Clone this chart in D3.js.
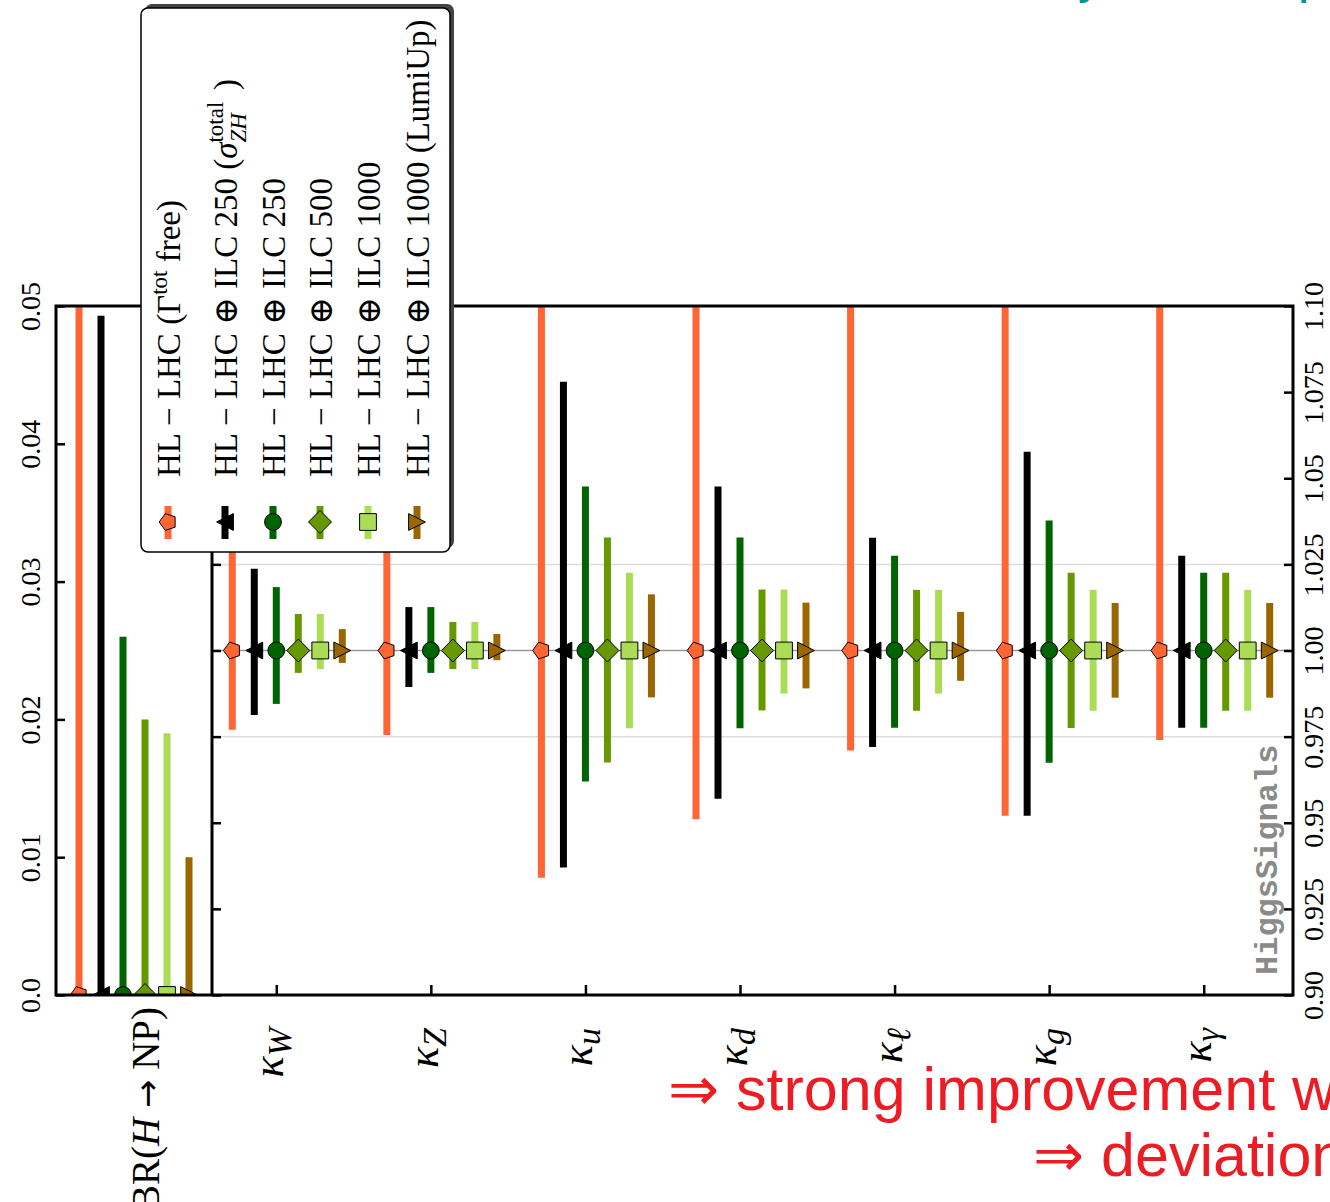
<!DOCTYPE html>
<html>
<head>
<meta charset="utf-8">
<script src="https://cdn.jsdelivr.net/npm/d3@7"></script>
<style>
  body { margin: 0; background: #fff; }
</style>
</head>
<body>
<div id="chart"></div>
<script>
// couplings on the right panel (subscript of kappa)
const categories = ["W", "Z", "u", "d", "\u2113", "g", "\u03b3"];

// scenarios, in legend order
const seriesKeys = ["lhc", "zh250", "ilc250", "ilc500", "ilc1000", "lumiup"];
const seriesColors = ["#ff6633", "#000000", "#006400", "#669900", "#aadd55", "#996600"];
const seriesMarkers = ["pentagon", "triangleLeft", "circle", "diamond", "square", "triangleRight"];

// BR(H -> NP) upper limits (left panel)
const brNP = [0.056, 0.0493, 0.0260, 0.0200, 0.0190, 0.0100];

// kappa ranges per scenario: upper and lower ends
const lhcUp = [1.05, 1.05, 1.12, 1.12, 1.12, 1.12, 1.12];
const lhcLo = [0.977, 0.9755, 0.934, 0.951, 0.971, 0.952, 0.974];
const zh250Up = [1.0237, 1.0126, 1.078, 1.0476, 1.0327, 1.0577, 1.0275];
const zh250Lo = [0.9813, 0.9894, 0.937, 0.957, 0.972, 0.952, 0.9776];
const ilc250Up = [1.0184, 1.0126, 1.0476, 1.0328, 1.0275, 1.0377, 1.0226];
const ilc250Lo = [0.9845, 0.9935, 0.962, 0.9774, 0.9776, 0.9674, 0.9776];
const ilc500Up = [1.0106, 1.0083, 1.0328, 1.0177, 1.0176, 1.0226, 1.0226];
const ilc500Lo = [0.9935, 0.9946, 0.9675, 0.9826, 0.9825, 0.9775, 0.9825];
const ilc1000Up = [1.0106, 1.0083, 1.0226, 1.0177, 1.0176, 1.0176, 1.0176];
const ilc1000Lo = [0.9946, 0.9946, 0.9774, 0.9875, 0.9875, 0.9825, 0.9825];
const lumiUp = [1.0062, 1.0048, 1.0163, 1.0139, 1.0112, 1.0138, 1.0138];
const lumiLo = [0.9964, 0.9972, 0.9864, 0.989, 0.9912, 0.9863, 0.9863];

// tick labels
const leftTicks = [0, 0.01, 0.02, 0.03, 0.04, 0.05];
const leftTickLabels = ["0.0", "0.01", "0.02", "0.03", "0.04", "0.05"];
const rightTicks = [0.9, 0.925, 0.95, 0.975, 1.0, 1.025, 1.05, 1.075, 1.1];
const rightTickLabels = ["0.90", "0.925", "0.95", "0.975", "1.00", "1.025", "1.05", "1.075", "1.10"];

const upper = [lhcUp, zh250Up, ilc250Up, ilc500Up, ilc1000Up, lumiUp];
const lower = [lhcLo, zh250Lo, ilc250Lo, ilc500Lo, ilc1000Lo, lumiLo];

const width = 1330, height = 1202;
const plotTop = 306, plotBottom = 995;
const leftX0 = 56, leftX1 = 212, rightX1 = 1293;
const serif = "'Liberation Serif', 'DejaVu Serif', serif";

const svg = d3.select("#chart").append("svg")
    .attr("width", width)
    .attr("height", height)
    .style("display", "block");

svg.append("rect").attr("width", width).attr("height", height).attr("fill", "#fff");

const yBR = d3.scaleLinear().domain([0, 0.05]).range([plotBottom, plotTop]);
const yK = d3.scaleLinear().domain([0.9, 1.1]).range([plotBottom, plotTop]);
const xCat = d3.scaleBand().domain(categories).range([210, 1292]);
const offset = d3.scalePoint().domain(seriesKeys).range([-55, 55]);
const brCenter = (leftX0 + leftX1) / 2;
const catCenter = c => xCat(c) + xCat.bandwidth() / 2;

const defs = svg.append("defs");
defs.append("clipPath").attr("id", "clipL").append("rect")
    .attr("x", leftX0).attr("y", plotTop).attr("width", leftX1 - leftX0).attr("height", plotBottom - plotTop);
defs.append("clipPath").attr("id", "clipR").append("rect")
    .attr("x", leftX1).attr("y", plotTop).attr("width", rightX1 - leftX1).attr("height", plotBottom - plotTop);

function markerPath(type) {
    const r = 8.4;
    const poly = pts => d3.line()(pts) + "Z";
    switch (type) {
        case "circle": return d3.symbol(d3.symbolCircle, Math.PI * r * r)();
        case "square": return d3.symbol(d3.symbolSquare, 4 * r * r)();
        case "diamond": return poly([[-11.5, 0], [0, -11.5], [11.5, 0], [0, 11.5]]);
        case "pentagon": {
            const R = 8.8;
            return poly(d3.range(5).map(k => {
                const a = Math.PI + k * 2 * Math.PI / 5;
                return [R * Math.cos(a), R * Math.sin(a)];
            }));
        }
        case "triangleLeft": return poly([[-r, 0], [r, -r], [r, r]]);
        case "triangleRight": return poly([[r, 0], [-r, -r], [-r, r]]);
    }
}

// ---- right panel: grid and reference line
const gR = svg.append("g").attr("clip-path", "url(#clipR)");
gR.selectAll("line.grid").data([0.975, 1.025]).enter().append("line")
    .attr("x1", leftX1).attr("x2", rightX1)
    .attr("y1", d => yK(d)).attr("y2", d => yK(d))
    .attr("stroke", "#dddddd").attr("stroke-width", 1.5);
gR.append("line")
    .attr("x1", leftX1).attr("x2", rightX1)
    .attr("y1", yK(1)).attr("y2", yK(1))
    .attr("stroke", "#999").attr("stroke-width", 1.5);

// ---- right panel: error bars and markers
const kData = [];
seriesKeys.forEach((s, i) => categories.forEach((c, j) => {
    kData.push({ s, i, c, lo: lower[i][j], hi: upper[i][j] });
}));

gR.selectAll("line.bar").data(kData).enter().append("line")
    .attr("x1", d => catCenter(d.c) + offset(d.s))
    .attr("x2", d => catCenter(d.c) + offset(d.s))
    .attr("y1", d => yK(d.lo)).attr("y2", d => yK(d.hi))
    .attr("stroke", d => seriesColors[d.i]).attr("stroke-width", 7);

gR.selectAll("path.mk").data(kData).enter().append("path")
    .attr("transform", d => `translate(${catCenter(d.c) + offset(d.s)},${yK(1)})`)
    .attr("d", d => markerPath(seriesMarkers[d.i]))
    .attr("fill", d => seriesColors[d.i])
    .attr("stroke", "#000").attr("stroke-width", 1);

// ---- left panel: BR(H->NP) upper limits
const gL = svg.append("g").attr("clip-path", "url(#clipL)");
gL.selectAll("line.bar").data(brNP).enter().append("line")
    .attr("x1", (d, i) => brCenter + offset(seriesKeys[i]))
    .attr("x2", (d, i) => brCenter + offset(seriesKeys[i]))
    .attr("y1", yBR(0)).attr("y2", d => yBR(d))
    .attr("stroke", (d, i) => seriesColors[i]).attr("stroke-width", 7);
gL.selectAll("path.mk").data(brNP).enter().append("path")
    .attr("transform", (d, i) => `translate(${brCenter + offset(seriesKeys[i])},${yBR(0)})`)
    .attr("d", (d, i) => markerPath(seriesMarkers[i]))
    .attr("fill", (d, i) => seriesColors[i])
    .attr("stroke", "#000").attr("stroke-width", 1);

// ---- axes
const axL = svg.append("g").attr("transform", `translate(${leftX0},0)`)
    .call(d3.axisLeft(yBR).tickValues(leftTicks).tickSize(-9).tickFormat((d, i) => leftTickLabels[i]));
const axRL = svg.append("g").attr("transform", `translate(${leftX1},0)`)
    .call(d3.axisLeft(yK).tickValues(rightTicks).tickSize(-9).tickFormat(""));
const axRR = svg.append("g").attr("transform", `translate(${rightX1},0)`)
    .call(d3.axisRight(yK).tickValues(rightTicks).tickSize(-9).tickFormat((d, i) => rightTickLabels[i]));
const axB = svg.append("g").attr("transform", `translate(0,${plotBottom})`)
    .call(d3.axisBottom(d3.scaleIdentity()).tickValues(categories.map(c => catCenter(c) + offset("ilc250")))
        .tickSize(-10).tickFormat(""));

[axL, axRL, axRR, axB].forEach(a => {
    a.select(".domain").remove();
    a.selectAll(".tick line").attr("stroke", "#000").attr("stroke-width", 2.5);
});
axL.selectAll(".tick text")
    .attr("transform", "rotate(-90)").attr("x", 0).attr("y", -16).attr("dy", 0)
    .attr("text-anchor", "middle")
    .style("font-family", serif).style("font-size", "28px").attr("fill", "#000");
axRR.selectAll(".tick text")
    .attr("transform", "rotate(-90)").attr("x", 0).attr("y", 30).attr("dy", 0)
    .attr("text-anchor", "middle")
    .style("font-family", serif).style("font-size", "28px").attr("fill", "#000");

// frames
const frame = svg.append("g").attr("fill", "none").attr("stroke", "#000").attr("stroke-width", 3);
frame.append("rect").attr("x", leftX0).attr("y", plotTop).attr("width", rightX1 - leftX0).attr("height", plotBottom - plotTop);
frame.append("line").attr("x1", leftX1).attr("x2", leftX1).attr("y1", plotTop).attr("y2", plotBottom);

// ---- category labels
const labG = svg.append("g").style("font-family", serif).attr("fill", "#000");
categories.forEach(c => {
    const t = labG.append("text")
        .attr("transform", `translate(${catCenter(c) + offset("ilc250") + 7},1028) rotate(-90)`)
        .attr("text-anchor", "end")
        .style("font-size", "44px").style("font-style", "italic");
    t.append("tspan").text("\u03ba");
    t.append("tspan").attr("font-size", "34px").attr("dy", "8px").text(c);
});
const br = labG.append("text")
    .attr("transform", `translate(${brCenter + offset("ilc250") + 36},1007) rotate(-90)`)
    .attr("text-anchor", "end").style("font-size", "39px");
br.append("tspan").text("BR(");
br.append("tspan").style("font-style", "italic").text("H");
br.append("tspan").text(" ");
br.append("tspan").style("font-family", "'DejaVu Sans', sans-serif").style("font-size", "34px").text("\u2192");
br.append("tspan").text(" NP)");

// ---- HiggsSignals tag
svg.append("text")
    .attr("transform", "translate(1277,975) rotate(-90)")
    .style("font-family", "'Liberation Mono', 'DejaVu Sans Mono', monospace")
    .style("font-weight", "bold").style("font-size", "32px")
    .attr("fill", "#8a8a8a").text("HiggsSignals");

// ---- legend
const lg = svg.append("g");
lg.append("rect").attr("x", 145).attr("y", 4).attr("width", 309).attr("height", 544)
    .attr("rx", 7).attr("fill", "#444");
lg.append("rect").attr("x", 141).attr("y", 8).attr("width", 309).attr("height", 544)
    .attr("rx", 7).attr("fill", "#fff").attr("stroke", "#000").attr("stroke-width", 1.5);

const legendX = [168, 225, 273, 320, 368, 417];
seriesKeys.forEach((s, i) => {
    const x = legendX[i];
    lg.append("line").attr("x1", x).attr("x2", x).attr("y1", 506).attr("y2", 539)
        .attr("stroke", seriesColors[i]).attr("stroke-width", 7);
    lg.append("path").attr("transform", `translate(${x},522)`)
        .attr("d", markerPath(seriesMarkers[i]))
        .attr("fill", seriesColors[i]).attr("stroke", "#000").attr("stroke-width", 1);

    const t = lg.append("text")
        .attr("transform", `translate(${x + 12},477) rotate(-90)`)
        .style("font-family", serif).style("font-size", "33px").attr("fill", "#000");
    if (i === 0) {
        t.append("tspan").text("HL \u2212 LHC (\u0393");
        t.append("tspan").attr("font-size", "23px").attr("dy", "-13px").text("tot");
        t.append("tspan").attr("dy", "13px").text(" free)");
    } else if (i === 1) {
        t.append("tspan").text("HL \u2212 LHC \u2295 ILC 250 (");
        t.append("tspan").style("font-style", "italic").text("\u03c3");
        const sup = t.append("tspan").attr("font-size", "23px").attr("dy", "-14px").text("total");
        const w = sup.node().getComputedTextLength();
        t.append("tspan").attr("font-size", "23px").style("font-style", "italic")
            .attr("dx", -w).attr("dy", "23px").text("ZH");
        t.append("tspan").attr("dy", "-9px").attr("dx", w - 26).text(" )");
    } else {
        const lbl = ["", "", "250", "500", "1000", "1000 (LumiUp)"][i];
        t.append("tspan").text("HL \u2212 LHC \u2295 ILC " + lbl);
    }
});

// ---- slide remnants: title descenders and red conclusions
svg.append("g").attr("fill", "#00968a")
    .style("font-family", "'Liberation Sans', sans-serif").style("font-size", "52px")
    .selectAll("text").data([["y", 1078], ["p", 1298]]).enter().append("text")
    .attr("x", d => d[1]).attr("y", -8).text(d => d[0]);

const red = svg.append("g").attr("fill", "#ed1c24")
    .style("font-family", "'Liberation Sans', 'DejaVu Sans', sans-serif").style("font-size", "61px");
red.append("text").attr("x", 668).attr("y", 1110).text("\u21d2 strong improvement with ILC");
red.append("text").attr("x", 1033).attr("y", 1176).text("\u21d2 deviations at the % level");
</script>
</body>
</html>
